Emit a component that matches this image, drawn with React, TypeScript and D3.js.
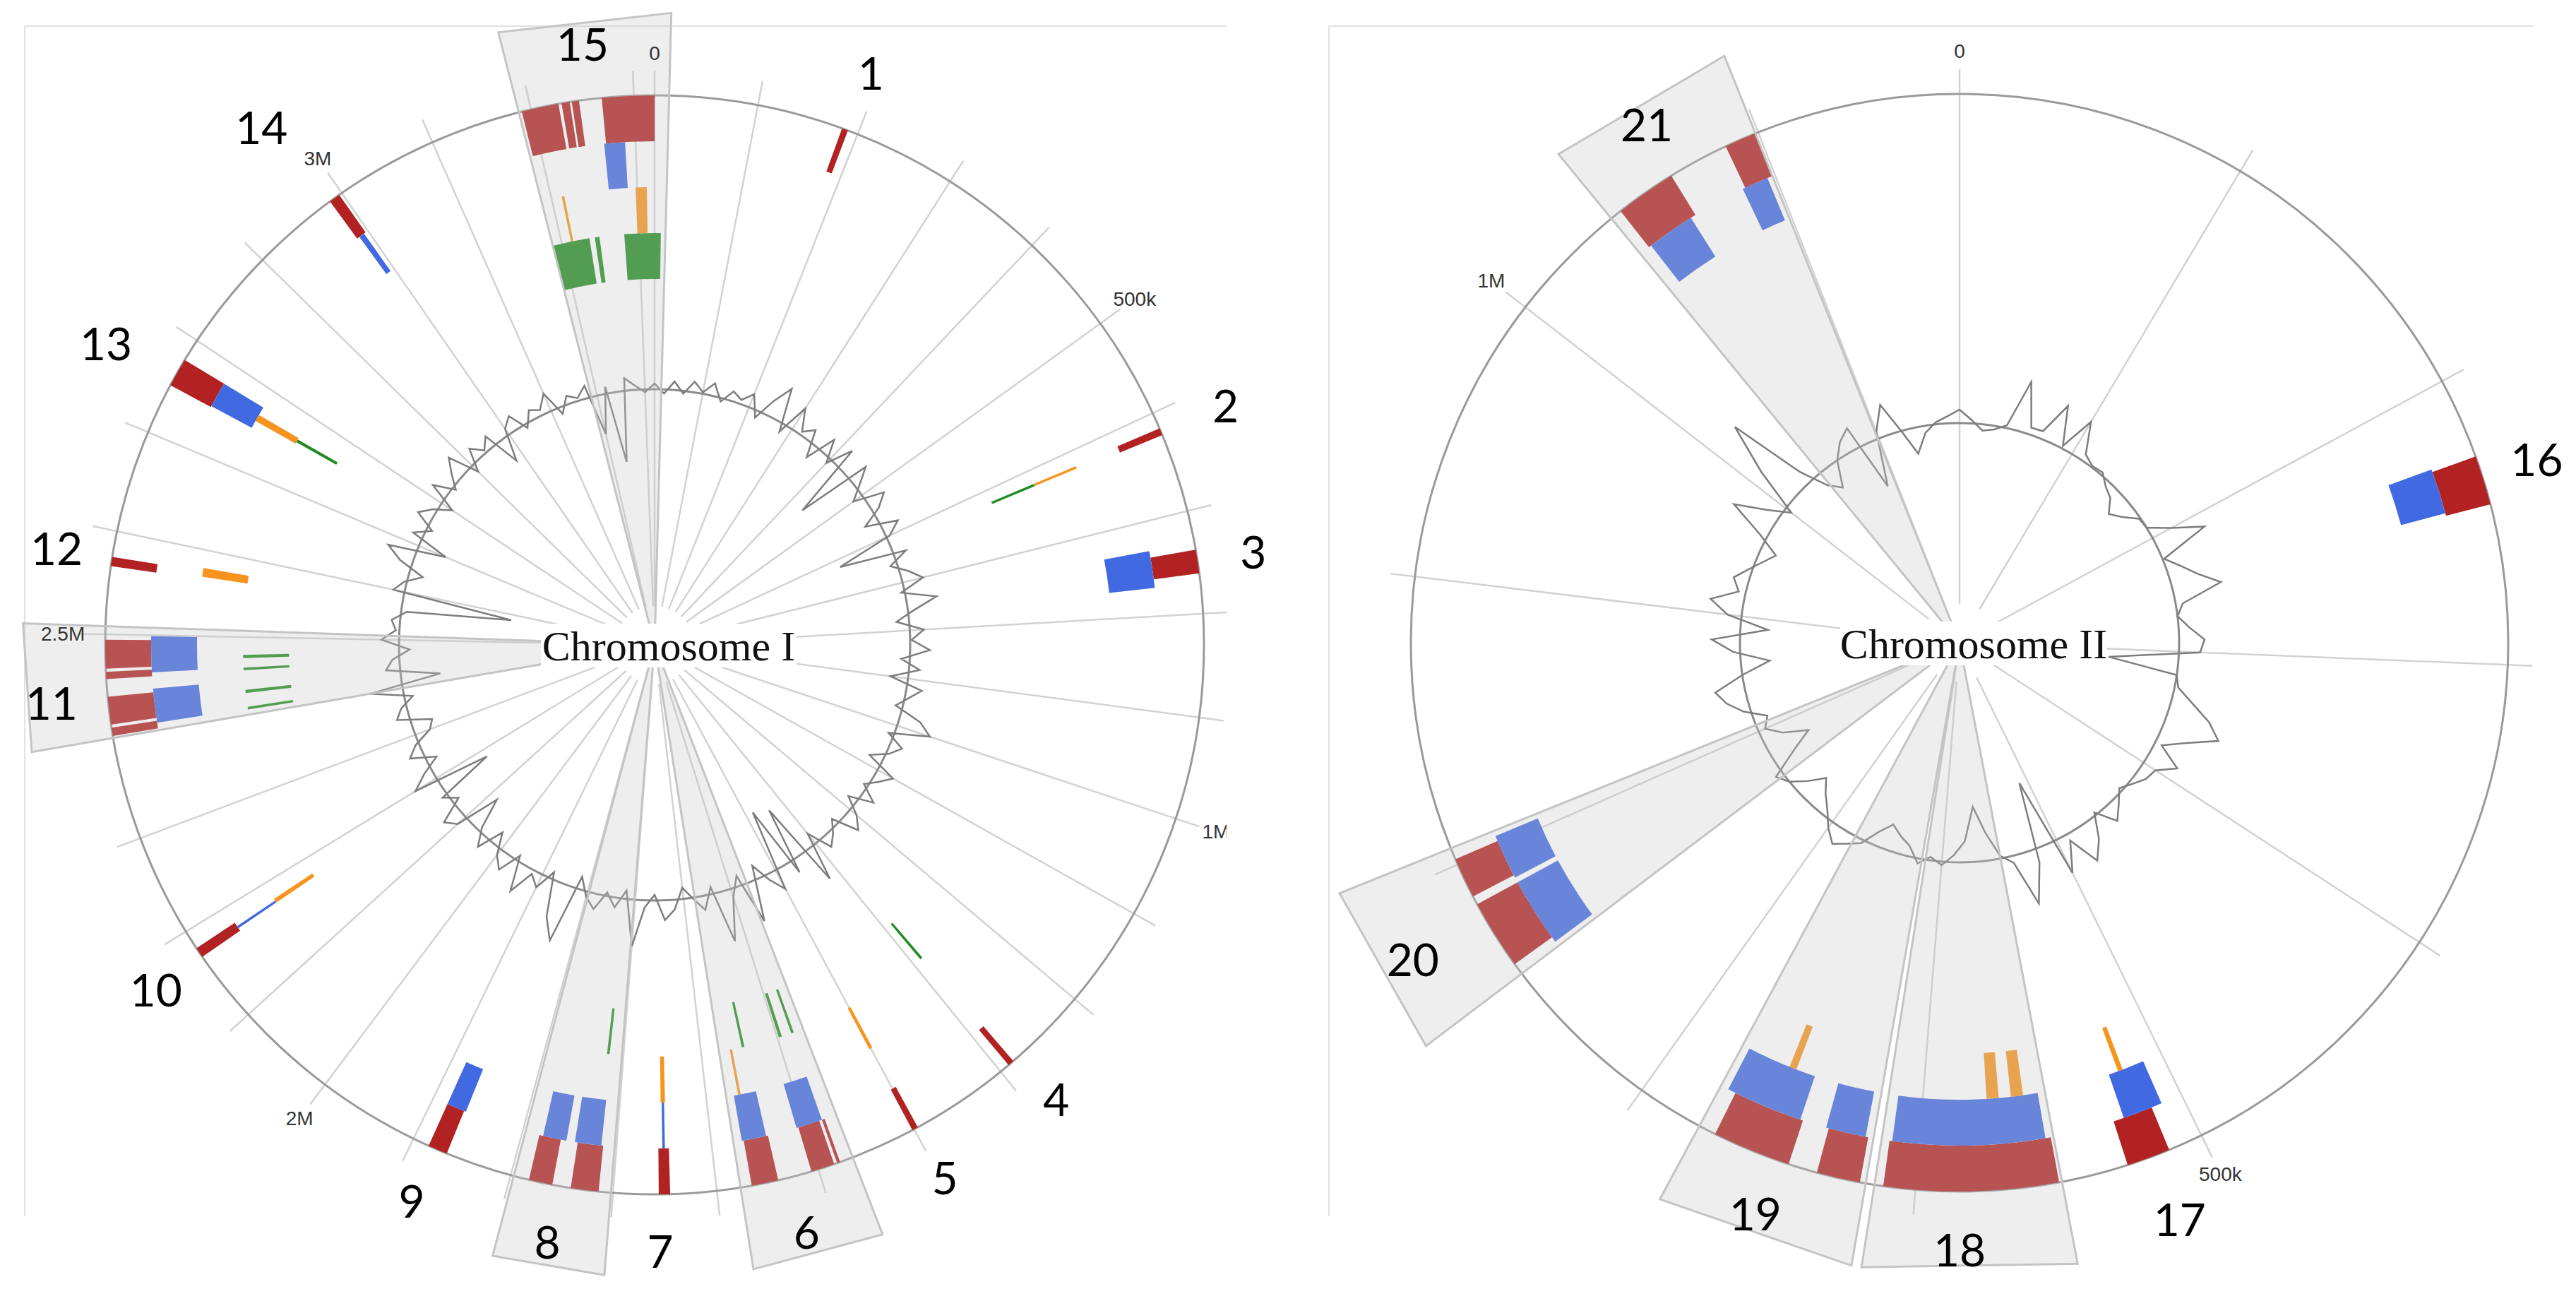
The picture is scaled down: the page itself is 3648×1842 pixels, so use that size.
import * as d3 from 'd3';

type Feature = [string, number, number];
type Region = [number, number, number];
type Mark = [number, number];

const W = 3648;
const H = 1842;

const TRACKS = ['red', 'blue', 'orange', 'green'];
const TRACK_COLORS: Record<string, string> = {
  red: '#b22222',
  blue: '#4169e1',
  orange: '#f7941d',
  green: '#228b22',
};

// ---------- Chromosome I (kb) ----------
const chr1Length = 3320;
const chr1TickPos = [0, 500, 1000, 2000, 2500, 3000];
const chr1TickText = ['0', '500k', '1M', '2M', '2.5M', '3M'];

const chr1Features: Feature[] = [
  ['red', 184, 190],
  ['red', 616, 623], ['orange', 618, 621], ['green', 618, 621],
  ['red', 738, 761], ['blue', 731, 770],
  ['red', 1284, 1290], ['green', 1286, 1289],
  ['red', 1396, 1402], ['orange', 1398, 1402],
  ['red', 1478, 1481], ['red', 1484, 1507], ['blue', 1481, 1509], ['green', 1478, 1481], ['green', 1494, 1498],
  ['red', 1540, 1566], ['blue', 1542, 1568], ['orange', 1560, 1563], ['green', 1544, 1547],
  ['red', 1645, 1656], ['blue', 1650, 1651], ['orange', 1648, 1653],
  ['red', 1714, 1741], ['blue', 1716, 1744], ['green', 1718, 1721],
  ['red', 1759, 1782], ['blue', 1753, 1778],
  ['red', 1865, 1884], ['blue', 1863, 1884],
  ['red', 2171, 2181], ['blue', 2175, 2176], ['orange', 2174, 2179],
  ['red', 2402, 2410], ['red', 2413, 2440], ['blue', 2408, 2444], ['green', 2407, 2410], ['green', 2428, 2432],
  ['red', 2457, 2464], ['red', 2467, 2495], ['blue', 2461, 2499], ['green', 2458, 2460], ['green', 2473, 2477],
  ['red', 2566, 2575], ['orange', 2569, 2579],
  ['red', 2750, 2778], ['blue', 2751, 2778], ['orange', 2760, 2768], ['green', 2762, 2766],
  ['red', 2986, 2997], ['blue', 2989, 2995],
  ['red', 3191, 3227], ['red', 3230, 3238], ['red', 3240, 3247], ['orange', 3212, 3215],
  ['green', 3188, 3236], ['green', 3243, 3249],
  ['red', 3269, 3320], ['blue', 3267, 3289], ['orange', 3298, 3311], ['green', 3281, 3328],
];

const chr1Regions: Region[] = [
  [15, 3188, 3334],
  [11, 2400, 2508],
  [8, 1702, 1797],
  [6, 1465, 1577],
];

const chr1Marks: Mark[] = [
  [1, 191], [2, 620], [3, 748], [4, 1277], [5, 1396], [6, 1526], [7, 1655], [8, 1754],
  [9, 1878], [10, 2171], [11, 2440], [12, 2575], [13, 2756], [14, 2977], [15, 3257],
];

// signal every 20 kb, deviation from the inner baseline
const chr1Step = 20;
const chr1Signal = [
  8, -6, 12, -4, 15, 2, 18, -5, 14, 6, 20, -10, 22, 49, -12, 35, 5, 18, -20, 24,
  -8, 30, -79, 29, 6, -15, 28, 10, -20, 25, 5, -77, 18, -10, 12, 30, -5, 43, 8, -18,
  20, 2, 28, -12, 15, -25, 22, 5, -10, 30, 49, -8, 18, 4, -20, 25, 10, -6, 20, -14,
  12, 28, -10, 6, 18, -18, 52, -77, 20, -87, 30, 8, -20, 59, -15, 12, 73, -10, 20, 2,
  -16, 14, 28, -8, 10, 66, -12, 14, -5, 22, 8, -18, 82, 52, -10, 20, 6, 42, -8, 25,
  10, -20, 18, -6, -49, 15, 28, -10, 8, -77, 35, 12, -15, 20, 5, -22, -30, 18, 8, -12,
  47, -56, 20, 10, -15, 25, 5, 12, -8, -156, 16, 4, -20, 18, 41, -41, 15, -8, 22, 6,
  -18, 25, -5, 14, 32, -12, 20, 4, 18, -36, 10, 22, -6, 15, 8, 27, -10, 12, 4, 18,
  -56, 10, -100, 18, 6, -4,
];

// ---------- Chromosome II (kb) ----------
const chr2Length = 1170;
const chr2TickPos = [0, 500, 1000];
const chr2TickText = ['0', '500k', '1M'];

const chr2Features: Feature[] = [
  ['red', 228, 245], ['blue', 227, 244],
  ['red', 512, 527], ['blue', 508, 523], ['orange', 517, 519],
  ['red', 551, 611], ['blue', 553, 610], ['orange', 559, 564], ['orange', 569, 574],
  ['red', 619, 634], ['blue', 620, 635],
  ['red', 644, 671], ['blue', 645, 674], ['orange', 653, 656],
  ['red', 761, 785], ['blue', 759, 785], ['red', 788, 802], ['blue', 787, 804],
  ['red', 1046, 1067], ['blue', 1047, 1065], ['red', 1088, 1099], ['blue', 1087, 1097],
];

const chr2Regions: Region[] = [
  [21, 1042, 1099],
  [20, 757, 806],
  [19, 617, 677],
  [18, 550, 614],
];

const chr2Marks: Mark[] = [[16, 235], [17, 517], [18, 585], [19, 649], [20, 780], [21, 1069]];

const chr2Step = 10;
const chr2Signal = [
  19, 5, -9, -5, 4, 72, 10, 11, 58, 4, 53, 10, 2, 4, -8, -15, -32, -20, -2, 0,
  30, 73, 2, 20, 40, 69, 10, 0, 15, 36, 30, -99, 0, 5, 30, 60, 81, 40, 10, 45,
  20, 16, 5, -5, 10, 26, -4, 30, 54, 10, 52, -95, 20, 75, 10, -4, -40, -78, -30, -10,
  5, -5, 7, -15, -25, -37, -20, 5, 15, 26, 10, -10, -25, -42, -20, 0, 11, -30, -64, -30,
  -10, -20, 10, 30, 42, 0, -41, 10, 40, -39, 20, 47, 10, 22, 5, -10, -23, 10, 64, 20,
  -10, 60, 130, 20, -20, -36, 0, 20, 32, -67, 10, 44, 0, -37, -10, 3, 10,
];

// ---------- layout ----------
const TRACK_W = 65;
const LABEL_R = 858;
const MARK_NUDGE: Record<number, number> = { 1: 8, 2: 19, 13: 29, 14: 63, 17: 15, 20: 36 };
const REACH_NUDGE: Record<number, number> = { 20: 52 };

interface PanelProps {
  id: string;
  cx: number;
  cy: number;
  R: number;
  rIn: number;
  len: number;
  tickPos: number[];
  tickText: string[];
  features: Feature[];
  regions: Region[];
  marks: Mark[];
  signal: number[];
  step: number;
  title: string;
  titleW: number;
  clip: [number, number, number, number];
}

function Panel(p: PanelProps) {
  const { cx, cy, R, rIn } = p;
  const angle = d3.scaleLinear().domain([0, p.len]).range([0, 2 * Math.PI]);
  const band = d3.scaleBand<string>().domain(TRACKS).range([R, R - 4 * TRACK_W]);
  const sig = d3.scaleLinear().domain([-200, 200]).range([rIn - 200, rIn + 200]);
  const pt = (a: number, r: number) => [cx + r * Math.sin(a), cy - r * Math.cos(a)];
  const arc = d3.arc<any>();

  const line = d3
    .lineRadial<number>()
    .angle((_, i) => angle(i * p.step))
    .radius((d) => sig(d))
    .curve(d3.curveLinearClosed);

  const ticks = d3.range(0, p.len, 100);
  const [kx, ky, kw, kh] = p.clip;

  return (
    <g>
      <defs>
        <clipPath id={`clip-${p.id}`}>
          <rect x={kx} y={ky} width={kw} height={kh} />
        </clipPath>
      </defs>
      <g clipPath={`url(#clip-${p.id})`}>
        {ticks.map((t) => {
          const [x1, y1] = pt(angle(t), 55);
          const [x2, y2] = pt(angle(t), R + 35);
          return <line key={t} x1={x1} y1={y1} x2={x2} y2={y2} stroke="#d2d2d2" strokeWidth={2.5} />;
        })}
        <circle cx={cx} cy={cy} r={R} fill="none" stroke="#9a9a9a" strokeWidth={3} />
        <circle cx={cx} cy={cy} r={rIn} fill="none" stroke="#8a8a8a" strokeWidth={3} />
        <path
          d={line(p.signal) || ''}
          transform={`translate(${cx},${cy})`}
          fill="none"
          stroke="#7d7d7d"
          strokeWidth={2.5}
          strokeLinejoin="miter"
        />
        <g transform={`translate(${cx},${cy})`}>
          {p.features.map(([track, s, e], i) => {
            const r0 = band(track)!;
            const r1 = r0 + band.bandwidth();
            let a0 = angle(s);
            let a1 = angle(e);
            const minA = 3.5 / ((r0 + r1) / 2);
            if (a1 - a0 < minA) {
              const m = (a0 + a1) / 2;
              a0 = m - minA / 2;
              a1 = m + minA / 2;
            }
            return (
              <path
                key={i}
                d={arc({ innerRadius: r0, outerRadius: r1, startAngle: a0, endAngle: a1 }) || ''}
                fill={TRACK_COLORS[track]}
              />
            );
          })}
        </g>
      </g>

      {p.regions.map(([n, s, e]) => {
        const reach = 895 + (REACH_NUDGE[n] || 0);
        const [x1, y1] = pt(angle(s), reach);
        const [x2, y2] = pt(angle(e), reach);
        return (
          <polygon
            key={n}
            points={`${cx},${cy} ${x1},${y1} ${x2},${y2}`}
            fill="#c8c8c8"
            fillOpacity={0.3}
            stroke="#c4c4c4"
            strokeWidth={3}
          />
        );
      })}

      <g clipPath={`url(#clip-${p.id})`}>
        {p.tickPos.map((t, i) => {
          const [x, y] = pt(angle(t), 838);
          return (
            <text
              key={t}
              x={x}
              y={y}
              textAnchor="middle"
              dominantBaseline="central"
              fontFamily="'Liberation Sans', Arial, sans-serif"
              fontSize={28}
              fill="#333"
            >
              {p.tickText[i]}
            </text>
          );
        })}
      </g>

      <rect x={cx + 20 - p.titleW / 2} y={cy - 30} width={p.titleW} height={62} fill="#fff" />
      <text
        x={cx + 20}
        y={cy + 2}
        textAnchor="middle"
        dominantBaseline="central"
        fontFamily="'Liberation Serif', 'Times New Roman', serif"
        fontSize={60}
        fill="#111"
      >
        {p.title}
      </text>

      {p.marks.map(([n, pos]) => {
        const [x, y] = pt(angle(pos), LABEL_R + (MARK_NUDGE[n] || 0));
        return (
          <text
            key={n}
            x={x}
            y={y}
            textAnchor="middle"
            dominantBaseline="central"
            fontFamily="Lato, 'Open Sans', sans-serif"
            fontSize={64}
            fill="#000"
          >
            {n}
          </text>
        );
      })}
    </g>
  );
}

export default function App() {
  return (
    <svg
      width={W}
      height={H}
      viewBox={`0 0 ${W} ${H}`}
      style={{ position: 'absolute', left: 0, top: 0, display: 'block', background: '#fff' }}
    >
      <rect width={W} height={H} fill="#fff" />
      {/* panel frames */}
      <line x1={35} y1={37} x2={1737} y2={37} stroke="#e2e2e2" strokeWidth={2} />
      <line x1={35} y1={37} x2={35} y2={1722} stroke="#e2e2e2" strokeWidth={2} />
      <line x1={1882} y1={37} x2={3588} y2={37} stroke="#e2e2e2" strokeWidth={2} />
      <line x1={1882} y1={37} x2={1882} y2={1722} stroke="#e2e2e2" strokeWidth={2} />

      <Panel
        id="chr1"
        cx={927}
        cy={913}
        R={778}
        rIn={362}
        len={chr1Length}
        tickPos={chr1TickPos}
        tickText={chr1TickText}
        features={chr1Features}
        regions={chr1Regions}
        marks={chr1Marks}
        signal={chr1Signal}
        step={chr1Step}
        title="Chromosome I"
        titleW={362}
        clip={[35, 37, 1702, 1805]}
      />
      <Panel
        id="chr2"
        cx={2775}
        cy={910}
        R={777}
        rIn={311}
        len={chr2Length}
        tickPos={chr2TickPos}
        tickText={chr2TickText}
        features={chr2Features}
        regions={chr2Regions}
        marks={chr2Marks}
        signal={chr2Signal}
        step={chr2Step}
        title="Chromosome II"
        titleW={378}
        clip={[1882, 37, 1720, 1805]}
      />
    </svg>
  );
}
